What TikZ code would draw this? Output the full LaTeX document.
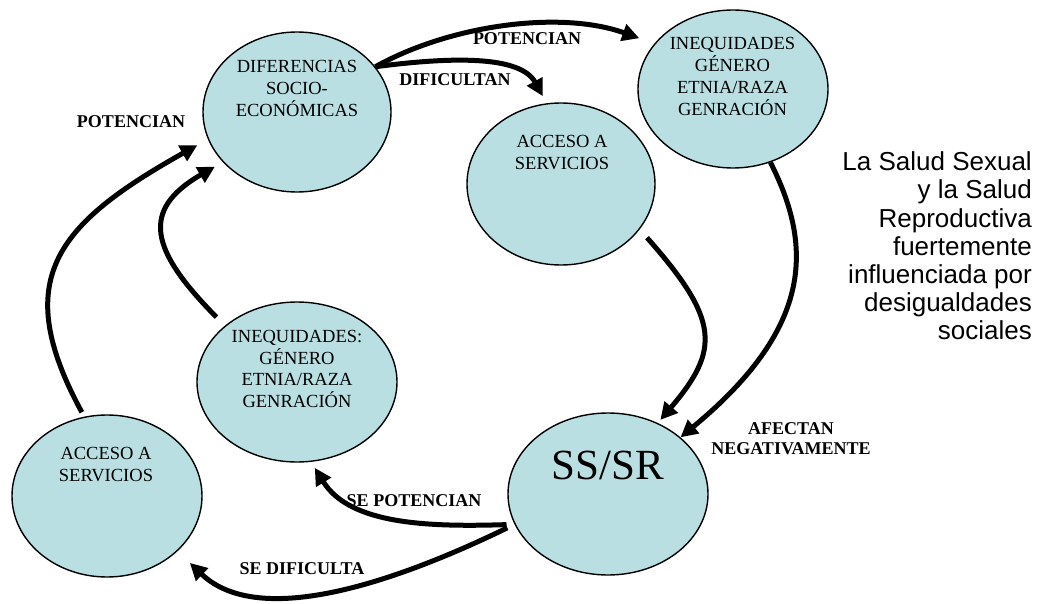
\documentclass[tikz,border=0pt]{standalone}
\usepackage{fontspec}
\setmainfont{Liberation Serif}
\newfontfamily\notafont{Liberation Sans}
\usepackage{tikz}
\usetikzlibrary{arrows.meta,shapes.geometric}
\definecolor{bubblecol}{RGB}{185,223,226}

\begin{document}
\begin{tikzpicture}[x=1pt,y=-1pt,
  bubble/.style={ellipse, draw=black, line width=1.4pt, fill=bubblecol, inner sep=0pt},
  bubtext/.style={align=center, inner sep=0pt, font=\fontsize{18.5}{21.7}\selectfont},
  lbl/.style={align=center, inner sep=0pt, font=\bfseries\fontsize{18}{20}\selectfont},
  link/.style={line width=5pt, -{Triangle[length=17pt,width=17pt]}}]
\useasboundingbox (0,0) rectangle (1037,604);

\node[bubble, minimum width=188pt, minimum height=160pt] (dif) at (297,112) {};
\node[bubble, minimum width=190pt, minimum height=158pt] (ineq1) at (733,89) {};
\node[bubble, minimum width=188pt, minimum height=162pt] (acc1) at (561,184) {};
\node[bubble, minimum width=200pt, minimum height=160pt] (ineq2) at (297,382) {};
\node[bubble, minimum width=190pt, minimum height=162pt] (acc2) at (107,496) {};
\node[bubble, minimum width=200pt, minimum height=162pt] (ss) at (608,494) {};

\node[bubtext] (dif-txt) at (297,88.5) {DIFERENCIAS\\SOCIO-\\ECONÓMICAS};
\node[bubtext] (ineq1-txt) at (732.5,76.5) {INEQUIDADES\\GÉNERO\\ETNIA/RAZA\\GENRACIÓN};
\node[bubtext] (acc1-txt) at (562,152.5) {ACCESO A\\SERVICIOS};
\node[bubtext] (ineq2-txt) at (297,369) {INEQUIDADES:\\GÉNERO\\ETNIA/RAZA\\GENRACIÓN};
\node[bubtext] (acc2-txt) at (106,464.5) {ACCESO A\\SERVICIOS};
\node[bubtext, font=\fontsize{43}{50}\selectfont] (ss-txt) at (608,465) {SS/SR};

\draw[link, shorten >=16pt] (dif.30) .. controls (450,25) and (560,10) .. (ineq1.150);
\draw[link, shorten >=8pt] (dif.30) .. controls (450,57) and (520,55) .. (acc1.100);
\draw[link, shorten <=11pt, shorten >=4pt] (acc1.330) .. controls (720,320) and (720,350) .. (ss.55);
\draw[link] (ineq1.297) .. controls (815,250) and (810,330) .. (ss.38);
\draw[link, shorten <=8pt, shorten >=7pt] (ss.198) .. controls (430,527) and (350,525) .. (ineq2.280);
\draw[link, shorten <=8pt, shorten >=17pt] (ss.198) .. controls (400,580) and (260,630) .. (acc2.322);
\draw[link, shorten <=5pt, shorten >=12pt] (acc2.106) .. controls (10,280) and (55,225) .. (dif.197);
\draw[link, shorten <=12pt, shorten >=9pt] (ineq2.142) .. controls (150,250) and (140,210) .. (dif.214);

\node[lbl] (potencian-a) at (527,39) {POTENCIAN};
\node[lbl] (dificultan) at (455,80) {DIFICULTAN};
\node[lbl] (afectan) at (791,439) {AFECTAN\\NEGATIVAMENTE};
\node[lbl] (sepotencian) at (414,501) {SE POTENCIAN};
\node[lbl] (sedificulta) at (302,569) {SE DIFICULTA};
\node[lbl] (potencian-b) at (131,122) {POTENCIAN};

\node[anchor=east, align=right, inner sep=0pt, font=\notafont\fontsize{26}{28.2}\selectfont] (nota) at (1032,246)
  {La Salud Sexual\\y la Salud\\Reproductiva\\fuertemente\\influenciada por\\desigualdades\\sociales};
\end{tikzpicture}
\end{document}
